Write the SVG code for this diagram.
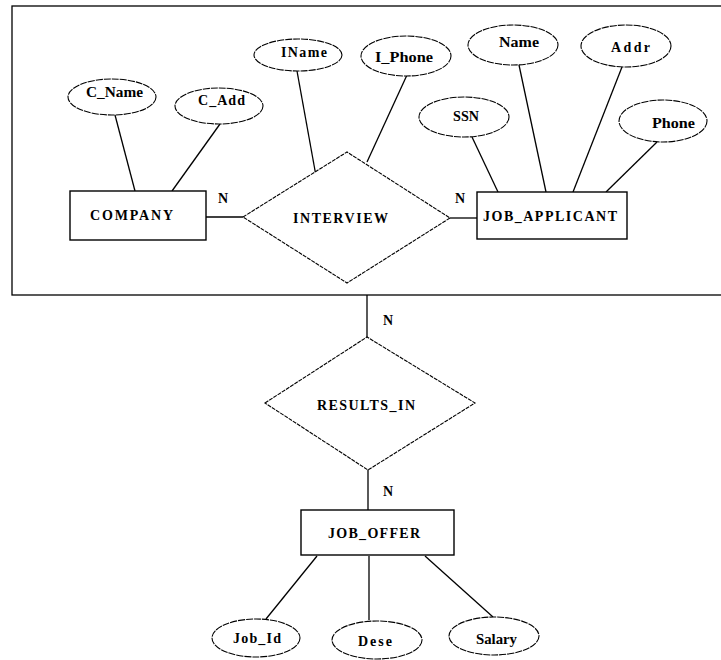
<svg xmlns="http://www.w3.org/2000/svg" width="721" height="660" viewBox="0 0 721 660">
<style>
.s{fill:none;stroke:#000;stroke-width:1.3}
.b{fill:#fff;stroke:#000;stroke-width:1.4}
.e{fill:#fff;stroke:#000;stroke-width:1.1;stroke-dasharray:7 1}
.d{fill:#fff;stroke:#000;stroke-width:1.1;stroke-dasharray:4 1}
text{font-family:"Liberation Serif","Times New Roman",serif;font-weight:bold;font-size:14px;fill:#000}
</style>
<rect width="721" height="660" fill="#fff"/>
<rect x="12" y="6" width="720" height="289" class="s"/>
<g id="connectors" class="s">
<line x1="115" y1="115" x2="135" y2="191"/>
<line x1="220" y1="124" x2="172" y2="191"/>
<line x1="297" y1="71" x2="316" y2="176"/>
<line x1="407" y1="75" x2="367" y2="162"/>
<line x1="472" y1="137" x2="498" y2="192"/>
<line x1="519" y1="65" x2="546" y2="192"/>
<line x1="622" y1="67" x2="573" y2="192"/>
<line x1="657" y1="142" x2="606" y2="192"/>
<line x1="206" y1="217" x2="243" y2="217"/>
<line x1="450" y1="218" x2="477" y2="218"/>
<line x1="367" y1="295" x2="367" y2="337"/>
<line x1="368" y1="470" x2="368" y2="510"/>
<line x1="317" y1="556" x2="266" y2="619"/>
<line x1="369" y1="556" x2="369" y2="620"/>
<line x1="425" y1="556" x2="493" y2="617"/>
</g>
<g id="company"><rect x="70" y="191" width="136" height="49" class="b"/><text x="90" y="220" textLength="83" lengthAdjust="spacing">COMPANY</text></g>
<g id="interview"><polygon points="243,217 347,152 450,218 347,283" class="d"/><text x="293" y="223" textLength="95" lengthAdjust="spacing">INTERVIEW</text></g>
<g id="job_applicant"><rect x="477" y="192" width="150" height="47" class="b"/><text x="483" y="221" textLength="134" lengthAdjust="spacing">JOB_APPLICANT</text></g>
<g id="c_name"><ellipse cx="112" cy="97" rx="44" ry="18" class="e"/><text x="86" y="97" textLength="57" lengthAdjust="spacingAndGlyphs">C_Name</text></g>
<g id="c_add"><ellipse cx="219" cy="106" rx="44" ry="18" class="e"/><text x="198" y="105" textLength="47" lengthAdjust="spacing">C_Add</text></g>
<g id="iname"><ellipse cx="298" cy="55" rx="44" ry="16" class="e"/><text x="281" y="57" textLength="46" lengthAdjust="spacing">IName</text></g>
<g id="i_phone"><ellipse cx="406" cy="56" rx="45" ry="20" class="e"/><text x="375" y="62" textLength="58" lengthAdjust="spacingAndGlyphs">I_Phone</text></g>
<g id="name"><ellipse cx="513" cy="45" rx="45" ry="20" class="e"/><text x="499" y="47" textLength="40" lengthAdjust="spacingAndGlyphs">Name</text></g>
<g id="addr"><ellipse cx="626" cy="46" rx="45" ry="21" class="e"/><text x="611" y="52" textLength="39" lengthAdjust="spacing">Addr</text></g>
<g id="ssn"><ellipse cx="464" cy="117" rx="45" ry="20" class="e"/><text x="453" y="121" textLength="26" lengthAdjust="spacingAndGlyphs">SSN</text></g>
<g id="phone"><ellipse cx="663" cy="121" rx="44" ry="21" class="e"/><text x="652" y="128" textLength="43" lengthAdjust="spacingAndGlyphs">Phone</text></g>
<g id="results_in"><polygon points="265,403 367,337 475,403 368,470" class="d"/><text x="317" y="410" textLength="98" lengthAdjust="spacing">RESULTS_IN</text></g>
<g id="job_offer"><rect x="301" y="510" width="153" height="45" class="b"/><text x="328" y="538" textLength="92" lengthAdjust="spacing">JOB_OFFER</text></g>
<g id="job_id"><ellipse cx="256" cy="638" rx="44" ry="19" class="e"/><text x="233" y="643" textLength="48" lengthAdjust="spacing">Job_Id</text></g>
<g id="dese"><ellipse cx="377" cy="640" rx="45" ry="19" class="e"/><text x="358" y="646" textLength="34" lengthAdjust="spacing">Dese</text></g>
<g id="salary"><ellipse cx="494" cy="636" rx="45" ry="19" class="e"/><text x="476" y="644" textLength="41" lengthAdjust="spacingAndGlyphs">Salary</text></g>
<g id="labels">
<text x="218" y="203">N</text>
<text x="455" y="203">N</text>
<text x="383" y="325">N</text>
<text x="383" y="496">N</text>
</g>
</svg>
